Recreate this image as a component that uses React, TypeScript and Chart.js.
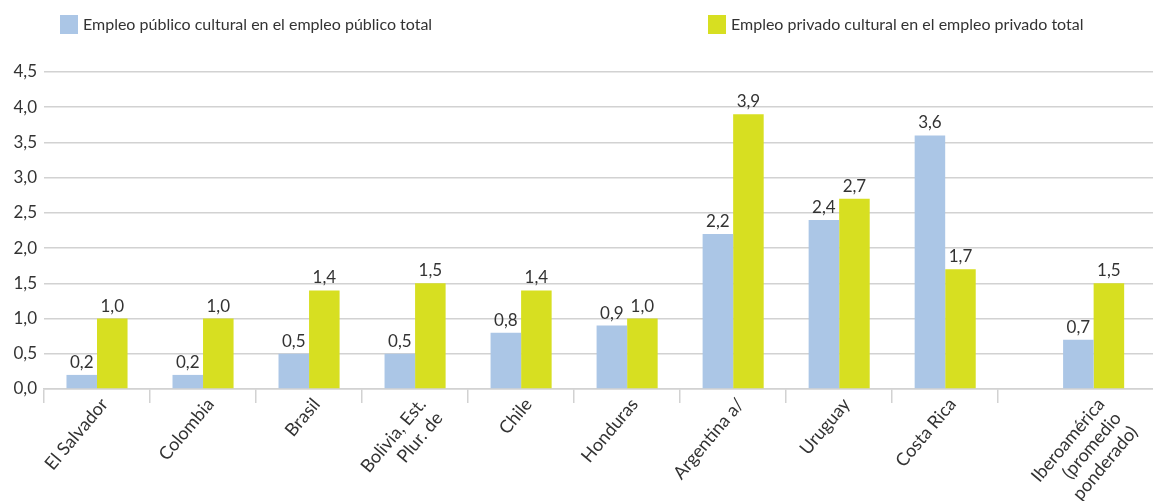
import React, { useEffect, useRef } from "react";
import { Chart, registerables } from "chart.js";

Chart.register(...registerables);

const categories: (string | string[])[] = [
  "El Salvador",
  "Colombia",
  "Brasil",
  ["Bolivia, Est.", "Plur. de"],
  "Chile",
  "Honduras",
  "Argentina a/",
  "Uruguay",
  "Costa Rica",
  ["Iberoamérica", "(promedio", "ponderado)"],
];
const publico = [0.2, 0.2, 0.5, 0.5, 0.8, 0.9, 2.2, 2.4, 3.6, 0.7];
const privado = [1.0, 1.0, 1.4, 1.5, 1.4, 1.0, 3.9, 2.7, 1.7, 1.5];
const seriesNames = [
  "Empleo público cultural en el empleo público total",
  "Empleo privado cultural en el empleo privado total",
];
const yTicks = [0, 0.5, 1, 1.5, 2, 2.5, 3, 3.5, 4, 4.5];

const BLUE = "#abc6e6";
const GREEN = "#d7df21";
const TEXT = "#333333";
const GRID = "#d2d2d2";
const FONT = 'Lato, "Open Sans", sans-serif';
const FS = 17;

const fmt = (v: number) => v.toFixed(1).replace(".", ",");

// category centre positions on the linear index axis (last group set apart)
const xPos = categories.map((_, i) => (i === categories.length - 1 ? i + 0.9 : i + 0.5));
const boundaries = categories.map((_, i) => i);
const LABEL_SHIFT = 0.07;
const labelPos = xPos.map((p) => p + LABEL_SHIFT);

export default function App() {
  const ref = useRef<HTMLCanvasElement | null>(null);

  useEffect(() => {
    if (!ref.current) return;
    const series = [publico, privado];

    const valueLabels = {
      id: "valueLabels",
      afterDatasetsDraw(chart: any) {
        const ctx = chart.ctx;
        ctx.save();
        ctx.font = `${FS}px ${FONT}`;
        ctx.fillStyle = TEXT;
        ctx.textAlign = "center";
        ctx.textBaseline = "alphabetic";
        chart.data.datasets.forEach((_: any, di: number) => {
          const meta = chart.getDatasetMeta(di);
          meta.data.forEach((el: any, i: number) => {
            ctx.fillText(fmt(series[di][i]), el.x, el.y - 7);
          });
        });
        ctx.restore();
      },
    };

    const legendX = [60, 708];
    const customLegend = {
      id: "customLegend",
      afterDraw(chart: any) {
        const ctx = chart.ctx;
        ctx.save();
        ctx.font = `16px ${FONT}`;
        ctx.textBaseline = "middle";
        ctx.textAlign = "left";
        chart.data.datasets.forEach((ds: any, i: number) => {
          const x = legendX[i];
          ctx.fillStyle = ds.backgroundColor;
          ctx.fillRect(x, 15, 18, 19);
          ctx.fillStyle = TEXT;
          ctx.fillText(ds.label, x + 23, 24.5);
        });
        ctx.restore();
      },
    };

    const chart = new Chart(ref.current, {
      type: "bar",
      data: {
        datasets: [
          {
            label: seriesNames[0],
            data: publico.map((v, i) => ({ x: xPos[i], y: v })),
            backgroundColor: BLUE,
          },
          {
            label: seriesNames[1],
            data: privado.map((v, i) => ({ x: xPos[i], y: v })),
            backgroundColor: GREEN,
          },
        ],
      },
      options: {
        animation: false,
        responsive: true,
        maintainAspectRatio: false,
        categoryPercentage: 0.576,
        barPercentage: 1,
        layout: { padding: { top: 72, left: 0, right: 0, bottom: 0 } },
        plugins: {
          legend: { display: false },
          tooltip: { enabled: false },
        },
        scales: {
          xg: {
            type: "linear",
            position: "bottom",
            weight: 0,
            min: 0,
            max: 10.46,
            offset: false,
            afterBuildTicks: (axis: any) => {
              axis.ticks = boundaries.map((v) => ({ value: v }));
            },
            afterFit: (axis: any) => {
              axis.height = 4;
            },
            ticks: { display: false },
            grid: {
              offset: false,
              drawOnChartArea: false,
              drawTicks: true,
              tickLength: 14,
              color: GRID,
              lineWidth: 1.5,
            },
            border: { display: true, color: GRID, width: 1.5 },
          },
          x: {
            type: "linear",
            position: "bottom",
            weight: 1,
            min: 0,
            max: 10.46,
            offset: false,
            afterBuildTicks: (axis: any) => {
              axis.ticks = labelPos.map((v) => ({ value: v }));
            },
            afterFit: (axis: any) => {
              axis.height = 108;
            },
            ticks: {
              autoSkip: false,
              minRotation: 50,
              maxRotation: 50,
              padding: 1,
              color: TEXT,
              font: { size: 18, family: FONT },
              callback: (value: any) => {
                const idx = labelPos.findIndex((p) => Math.abs(p - Number(value)) < 1e-6);
                return idx >= 0 ? categories[idx] : "";
              },
            },
            grid: { display: false, drawTicks: false },
            border: { display: false },
          },
          y: {
            min: 0,
            max: 4.5,
            afterBuildTicks: (axis: any) => {
              axis.ticks = yTicks.map((v) => ({ value: v }));
            },
            afterFit: (axis: any) => {
              axis.width = 44;
            },
            ticks: {
              padding: 7,
              color: TEXT,
              font: { size: FS, family: FONT },
              callback: (value: any) => fmt(Number(value)),
            },
            grid: { color: GRID, drawTicks: false, lineWidth: 1.5 },
            border: { display: false },
          },
        },
      },
      plugins: [valueLabels, customLegend],
    } as any);

    return () => chart.destroy();
  }, []);

  return (
    <div style={{ position: "absolute", left: 0, top: 0, width: 1153, height: 501 }}>
      <canvas ref={ref} />
    </div>
  );
}
